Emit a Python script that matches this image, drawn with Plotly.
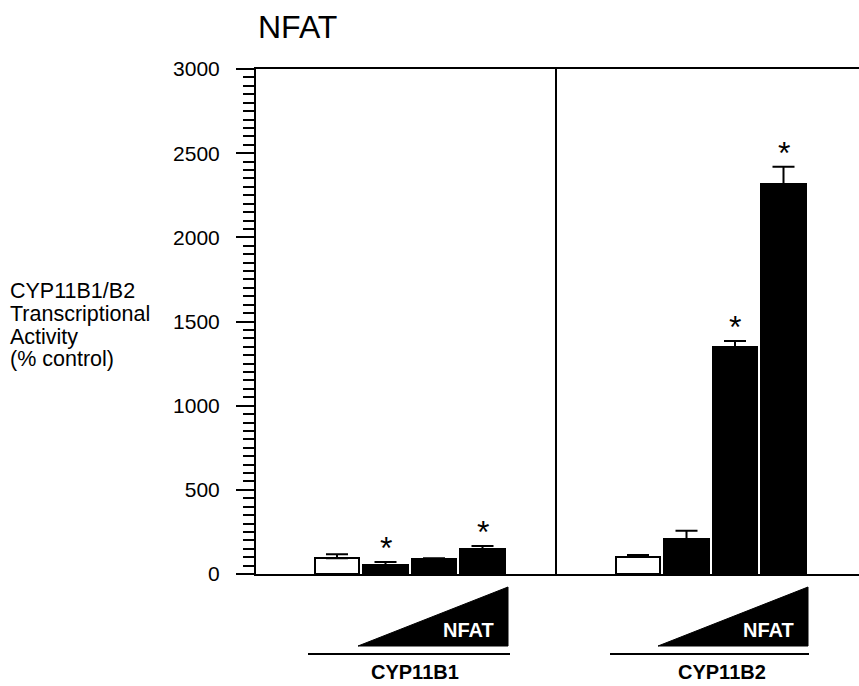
import plotly.graph_objects as go

# ---- data ----
groups = ["CYP11B1", "CYP11B2"]
b1_values = [93, 53, 87, 148]
b1_err_top = [117, 71, 93, 166]
b1_star = [False, True, False, True]
b2_values = [103, 208, 1347, 2317]
b2_err_top = [113, 257, 1384, 2420]
b2_star = [False, False, True, True]
bar_fill = ["white", "black", "black", "black"]
y_ticks = [0, 500, 1000, 1500, 2000, 2500, 3000]
y_title_lines = ["CYP11B1/B2", "Transcriptional", "Activity", "(% control)"]
title_text = "NFAT"
triangle_label = "NFAT"

# ---- layout geometry ----
W, H = 859, 686
L, R, T, B = 256, 859, 69, 574
XMAX = (R - L) / 48.5
FONT = "Liberation Sans, Arial, Helvetica, sans-serif"

def xd(px):
    return (px - L) / 48.5

def py(p):
    return (B - p) / (B - T)

def px_paper(px):
    return (px - L) / (R - L)

group_starts = [xd(337), xd(638)]
values = [b1_values, b2_values]
err_tops = [b1_err_top, b2_err_top]
stars = [b1_star, b2_star]

fig = go.Figure()
annotations = []
for g in range(2):
    xs = [group_starts[g] + i * 1.0 for i in range(4)]
    vals = values[g]
    errs = [e - v for e, v in zip(err_tops[g], vals)]
    fig.add_trace(go.Bar(
        x=xs, y=vals, width=0.92,
        marker=dict(color=bar_fill, line=dict(color="black", width=2)),
        error_y=dict(type="data", symmetric=False, array=errs,
                     arrayminus=[0] * 4, color="black", thickness=2, width=11),
        showlegend=False, hoverinfo="skip",
    ))
    for x, e, s in zip(xs, err_tops[g], stars[g]):
        if s:
            annotations.append(dict(text="*", xref="x", yref="y", x=x, y=e,
                                    xanchor="center", yanchor="middle", yshift=14,
                                    showarrow=False,
                                    font=dict(family=FONT, size=32, color="black")))

shapes = []
# divider
shapes.append(dict(type="line", xref="x", yref="paper", x0=xd(556), x1=xd(556),
                   y0=0, y1=1, line=dict(color="black", width=2)))
tri = [(358, 508), (658, 808)]
lines = [(308, 510), (610, 809)]
label_x = [415, 722]
for g in range(2):
    x0, x1 = xd(tri[g][0]), xd(tri[g][1])
    ytop, ybot = py(587), py(646)
    shapes.append(dict(type="path", xref="x", yref="paper",
                       path=f"M {x0},{ybot} L {x1},{ytop} L {x1},{ybot} Z",
                       fillcolor="black", line=dict(color="black", width=1)))
    shapes.append(dict(type="line", xref="x", yref="paper",
                       x0=xd(lines[g][0]), x1=xd(lines[g][1]),
                       y0=py(654), y1=py(654), line=dict(color="black", width=2)))
    annotations.append(dict(text=f"<b>{triangle_label}</b>", xref="x", yref="paper",
                            x=xd(tri[g][1] - 12), y=py(630), xanchor="right", yanchor="middle",
                            showarrow=False, font=dict(family=FONT, size=20, color="white")))
    annotations.append(dict(text=f"<b>{groups[g]}</b>", xref="x", yref="paper",
                            x=xd(label_x[g]), y=py(672), xanchor="center", yanchor="middle",
                            showarrow=False, font=dict(family=FONT, size=20, color="black")))

annotations.append(dict(text=title_text, xref="paper", yref="paper",
                        x=px_paper(256), y=py(27), xanchor="left", yanchor="middle",
                        showarrow=False, font=dict(family=FONT, size=32, color="black")))
for i, t in enumerate(y_title_lines):
    annotations.append(dict(text=t, xref="paper", yref="paper",
                            x=px_paper(8), y=py(291 + i * 22.8), xanchor="left", yanchor="middle",
                            showarrow=False, font=dict(family=FONT, size=21.5, color="black")))

fig.update_layout(
    width=W, height=H,
    margin=dict(l=L, r=W - R, t=T, b=H - B),
    paper_bgcolor="white", plot_bgcolor="white",
    font=dict(family=FONT, color="black"),
    bargap=0, shapes=shapes, annotations=annotations,
    xaxis=dict(range=[0, XMAX], showticklabels=False, ticks="", showgrid=False,
               zeroline=False, showline=True, linecolor="black", linewidth=2,
               mirror=True, fixedrange=True),
    yaxis=dict(range=[0, 3000], tickvals=y_ticks, ticks="outside", ticklen=18,
               tickwidth=2, tickcolor="black", showgrid=False, zeroline=False,
               showline=True, linecolor="black", linewidth=2,
               tickfont=dict(family=FONT, size=21, color="black"),
               ticklabelstandoff=12,
               minor=dict(dtick=50, ticks="outside", ticklen=11, tickwidth=2,
                          tickcolor="black", showgrid=False),
               fixedrange=True),
)

fig.write_html("out.html", config={"displayModeBar": False},
               post_script="document.body.style.margin='0';document.body.style.padding='0';")
